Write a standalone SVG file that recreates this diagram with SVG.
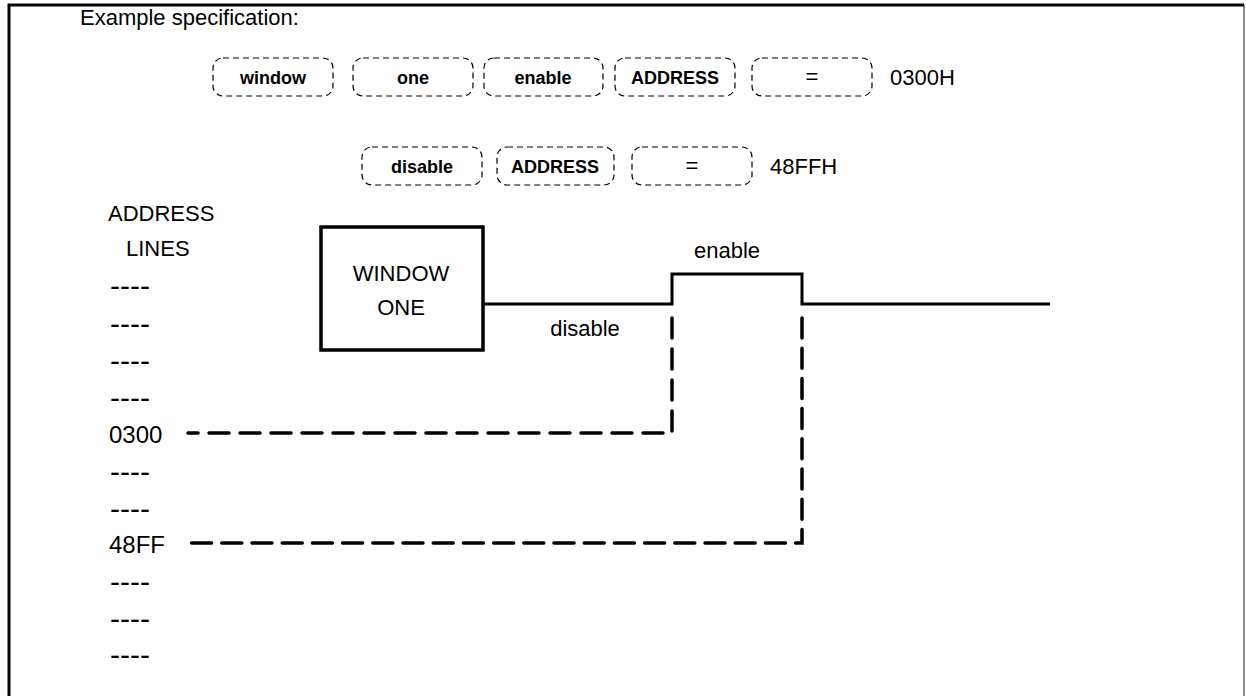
<svg xmlns="http://www.w3.org/2000/svg" width="1246" height="696" viewBox="0 0 1246 696">
<style>
text{font-family:"Liberation Sans",Arial,sans-serif;fill:#000}
.t{font-size:22px}
.n{font-size:24px}
.h{font-size:30px}
.b{font-size:18px;font-weight:bold}
.c{text-anchor:middle}
.db{fill:none;stroke:#000;stroke-width:1.2;stroke-dasharray:6 4}
.sig{fill:none;stroke:#000;stroke-width:3}
.dl{fill:none;stroke:#000;stroke-width:3.5;stroke-dasharray:20 11;stroke-linecap:round}
</style>
<rect width="1246" height="696" fill="#fff"/>
<path d="M9 696 V5 H1244" fill="none" stroke="#000" stroke-width="3"/>
<path d="M1244 5 V696" fill="none" stroke="#444" stroke-width="1.2"/>
<text class="t" x="80" y="25">Example specification:</text>
<g id="spec1">
<rect class="db" x="213" y="58" width="120" height="38" rx="10"/><text class="b c" x="273" y="84">window</text>
<rect class="db" x="353" y="58" width="120" height="38" rx="10"/><text class="b c" x="413" y="84">one</text>
<rect class="db" x="484" y="58" width="119" height="38" rx="10"/><text class="b c" x="543" y="84">enable</text>
<rect class="db" x="615" y="58" width="120" height="38" rx="10"/><text class="b c" x="675" y="84">ADDRESS</text>
<rect class="db" x="752" y="58" width="120" height="38" rx="10"/><text class="t c" x="812" y="84">=</text>
<text class="t" x="890" y="85">0300H</text>
</g>
<g id="spec2">
<rect class="db" x="362" y="147" width="120" height="38" rx="10"/><text class="b c" x="422" y="173">disable</text>
<rect class="db" x="497" y="147" width="117" height="38" rx="10"/><text class="b c" x="555" y="173">ADDRESS</text>
<rect class="db" x="632" y="147" width="120" height="38" rx="10"/><text class="t c" x="692" y="173">=</text>
<text class="t" x="770" y="174">48FFH</text>
</g>
<g id="address-lines">
<text class="t" x="108" y="221">ADDRESS</text>
<text class="t" x="126" y="256">LINES</text>
<text class="h" x="110" y="296" textLength="40">----</text>
<text class="h" x="110" y="334" textLength="40">----</text>
<text class="h" x="110" y="371" textLength="40">----</text>
<text class="h" x="110" y="408" textLength="40">----</text>
<text class="n" x="109" y="443">0300</text>
<text class="h" x="110" y="482" textLength="40">----</text>
<text class="h" x="110" y="519" textLength="40">----</text>
<text class="n" x="109" y="553">48FF</text>
<text class="h" x="110" y="592" textLength="40">----</text>
<text class="h" x="110" y="629" textLength="40">----</text>
<text class="h" x="110" y="665" textLength="40">----</text>
</g>
<g id="window-one">
<rect x="321" y="227" width="162" height="123" fill="#fff" stroke="#000" stroke-width="3.5"/>
<text class="t c" x="401" y="281">WINDOW</text>
<text class="t c" x="401" y="315">ONE</text>
</g>
<g id="connectors">
<path class="sig" d="M483 304 H672 V274 H802 V304 H1050"/>
<text class="t c" x="727" y="258">enable</text>
<text class="t c" x="585" y="336">disable</text>
<path class="dl" d="M672 318 V433 H188"/>
<path class="dl" d="M802 318 V543 H188" style="stroke-dasharray:20 10.2"/>
</g>
</svg>
